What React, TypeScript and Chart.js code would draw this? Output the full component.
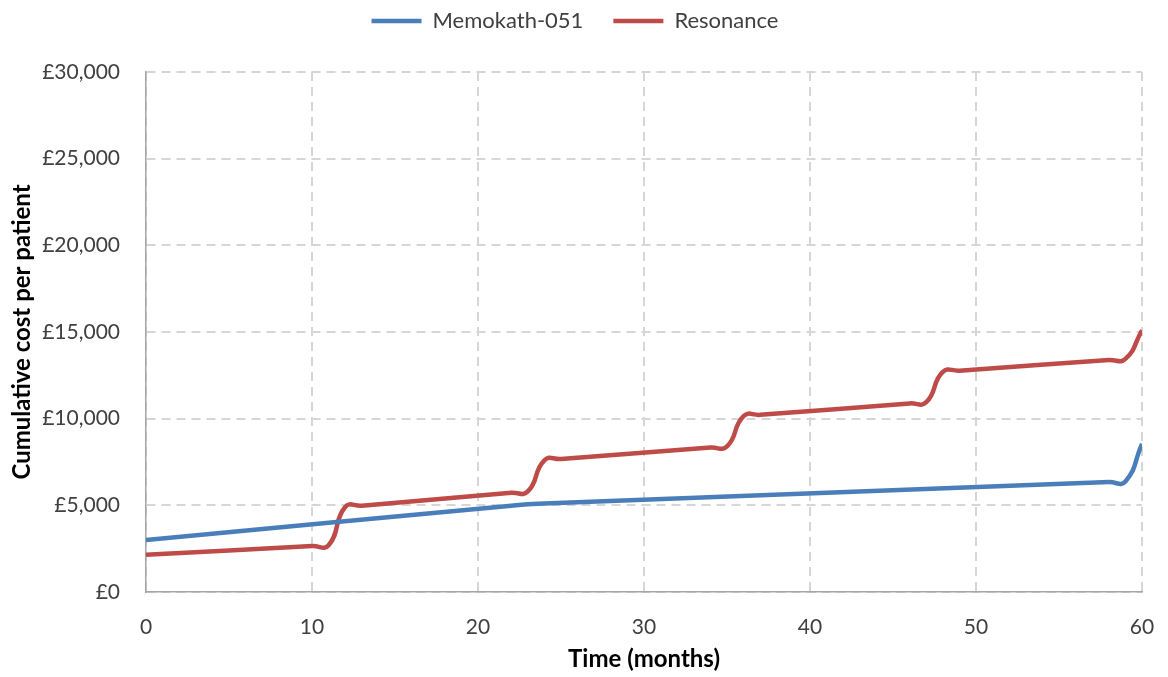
import { useEffect, useRef } from "react";
import { Chart, registerables } from "chart.js";

Chart.register(...registerables);

// Months at which the curves were read, and the cumulative cost (GBP) there
const memokathMonths = [0, 22, 23, 24, 58, 59, 60];
const memokathCosts = [3000, 4980, 5060, 5100, 6340, 6380, 8550];

const resonanceMonths = [0, 10, 11, 12, 13, 22, 23, 24, 25, 34, 35, 36, 37, 46, 47, 48, 49, 58, 59, 60];
const resonanceCosts = [2150, 2650, 2700, 4900, 4980, 5720, 5800, 7600, 7670, 8330, 8400, 10150, 10220, 10880, 10950, 12700, 12770, 13380, 13450, 15100];

const seriesNames = ["Memokath-051", "Resonance"];
const seriesColors = ["#4A7EBB", "#BE4B48"];

const xTicks = [0, 10, 20, 30, 40, 50, 60];
const yTicks = [0, 5000, 10000, 15000, 20000, 25000, 30000];

const xTitle = "Time (months)";
const yTitle = "Cumulative cost per patient";

const FONT = "Lato, 'Open Sans', sans-serif";

function fmtPounds(v: number): string {
  return "£" + String(Math.round(v)).replace(/\B(?=(\d{3})+(?!\d))/g, ",");
}

export default function App() {
  const ref = useRef<HTMLCanvasElement | null>(null);

  useEffect(() => {
    if (!ref.current) return;
    const toPts = (xs: number[], ys: number[]) => xs.map((x, i) => ({ x, y: ys[i] }));

    const legendSpacer = {
      id: "legendSpacer",
      beforeInit(chart: any) {
        const legend = chart.legend;
        if (!legend) return;
        const origFit = legend.fit;
        legend.fit = function () {
          origFit.call(this);
          this.height = 92;
        };
      },
    };

    const chart = new Chart(ref.current, {
      type: "line",
      data: {
        datasets: [
          {
            label: seriesNames[0],
            data: toPts(memokathMonths, memokathCosts),
            borderColor: seriesColors[0],
            backgroundColor: seriesColors[0],
            borderWidth: 4.5,
            pointRadius: 0,
            tension: 0.5,
            fill: false,
          },
          {
            label: seriesNames[1],
            data: toPts(resonanceMonths, resonanceCosts),
            borderColor: seriesColors[1],
            backgroundColor: seriesColors[1],
            borderWidth: 4.5,
            pointRadius: 0,
            tension: 0.5,
            fill: false,
          },
        ],
      },
      plugins: [legendSpacer],
      options: {
        animation: false,
        responsive: true,
        maintainAspectRatio: false,
        layout: { padding: { top: -20, left: 8, right: 26, bottom: 3 } },
        plugins: {
          tooltip: { enabled: false },
          legend: {
            position: "top",
            labels: {
              usePointStyle: true,
              pointStyle: "line",
              pointStyleWidth: 50,
              padding: 30,
              color: "#404040",
              font: { family: FONT, size: 22 },
            },
          },
        },
        scales: {
          x: {
            type: "linear",
            min: 0,
            max: 60,
            afterBuildTicks: (scale: any) => {
              scale.ticks = xTicks.map((v) => ({ value: v }));
            },
            afterFit: (scale: any) => {
              scale.height = 82;
              scale.paddingRight = 12;
              scale.paddingLeft = 12;
            },
            ticks: {
              padding: 23,
              color: "#404040",
              font: { family: FONT, size: 21 },
              maxRotation: 0,
            },
            grid: { color: "#D6D6D6", lineWidth: 2, drawTicks: false },
            border: { display: true, color: "#A6A6A6", width: 1.5, dash: [9, 6] },
            title: {
              display: true,
              text: xTitle,
              color: "#000000",
              font: { family: FONT, size: 24, weight: "bold" },
              padding: { top: 0, bottom: 0 },
            },
          },
          y: {
            min: 0,
            max: 30000,
            afterBuildTicks: (scale: any) => {
              scale.ticks = yTicks.map((v) => ({ value: v }));
            },
            afterFit: (scale: any) => {
              scale.width = 138;
            },
            ticks: {
              padding: 26,
              color: "#404040",
              font: { family: FONT, size: 21 },
              callback: (v: any) => fmtPounds(Number(v)),
            },
            grid: { color: "#D6D6D6", lineWidth: 2, drawTicks: false },
            border: { display: true, color: "#A6A6A6", width: 1.5, dash: [9, 6] },
            title: {
              display: true,
              text: yTitle,
              color: "#000000",
              font: { family: FONT, size: 24, weight: "bold" },
              padding: { top: 0, bottom: 0 },
            },
          },
        },
      },
    } as any);

    return () => chart.destroy();
  }, []);

  return (
    <div
      style={{
        position: "absolute",
        left: 0,
        top: 0,
        width: 1168,
        height: 677,
        background: "#ffffff",
      }}
    >
      <canvas ref={ref} />
    </div>
  );
}
